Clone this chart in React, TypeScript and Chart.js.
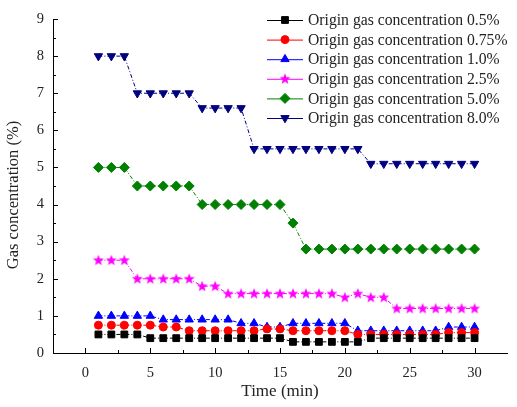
import React, { useEffect, useRef } from "react";
import { Chart, registerables } from "chart.js";
import { drawPoint } from "chart.js/helpers";

Chart.register(...registerables);

const times = Array.from({ length: 30 }, (_, i) => i + 1);

const c05 = [0.5, 0.5, 0.5, 0.5, 0.4, 0.4, 0.4, 0.4, 0.4, 0.4, 0.4, 0.4, 0.4, 0.4, 0.4, 0.3, 0.3, 0.3, 0.3, 0.3, 0.3, 0.4, 0.4, 0.4, 0.4, 0.4, 0.4, 0.4, 0.4, 0.4];
const c075 = [0.75, 0.75, 0.75, 0.75, 0.75, 0.7, 0.7, 0.6, 0.6, 0.6, 0.6, 0.6, 0.6, 0.65, 0.65, 0.6, 0.6, 0.6, 0.6, 0.6, 0.5, 0.5, 0.5, 0.5, 0.5, 0.5, 0.5, 0.55, 0.55, 0.55];
const c10 = [1.0, 1.0, 1.0, 1.0, 1.0, 0.9, 0.9, 0.9, 0.9, 0.9, 0.9, 0.8, 0.8, 0.7, 0.7, 0.8, 0.8, 0.8, 0.8, 0.8, 0.6, 0.6, 0.6, 0.6, 0.6, 0.6, 0.6, 0.7, 0.7, 0.7];
const c25 = [2.5, 2.5, 2.5, 2.0, 2.0, 2.0, 2.0, 2.0, 1.8, 1.8, 1.6, 1.6, 1.6, 1.6, 1.6, 1.6, 1.6, 1.6, 1.6, 1.5, 1.6, 1.5, 1.5, 1.2, 1.2, 1.2, 1.2, 1.2, 1.2, 1.2];
const c50 = [5.0, 5.0, 5.0, 4.5, 4.5, 4.5, 4.5, 4.5, 4.0, 4.0, 4.0, 4.0, 4.0, 4.0, 4.0, 3.5, 2.8, 2.8, 2.8, 2.8, 2.8, 2.8, 2.8, 2.8, 2.8, 2.8, 2.8, 2.8, 2.8, 2.8];
const c80 = [8.0, 8.0, 8.0, 7.0, 7.0, 7.0, 7.0, 7.0, 6.6, 6.6, 6.6, 6.6, 5.5, 5.5, 5.5, 5.5, 5.5, 5.5, 5.5, 5.5, 5.5, 5.1, 5.1, 5.1, 5.1, 5.1, 5.1, 5.1, 5.1, 5.1];

const seriesLabels = [
  "Origin gas concentration 0.5%",
  "Origin gas concentration 0.75%",
  "Origin gas concentration 1.0%",
  "Origin gas concentration 2.5%",
  "Origin gas concentration 5.0%",
  "Origin gas concentration 8.0%",
];
const seriesValues = [c05, c075, c10, c25, c50, c80];
const seriesColors = ["#000000", "#FF0000", "#0000FF", "#FF00FF", "#008000", "#000080"];

const xTickLabels = [0, 5, 10, 15, 20, 25, 30];
const yTickLabels = [0, 1, 2, 3, 4, 5, 6, 7, 8, 9];
const xTitle = "Time (min)";
const yTitle = "Gas concentration (%)";

const FONT = "'Liberation Serif', 'Times New Roman', serif";

function makeStar(color: string): HTMLCanvasElement {
  const c = document.createElement("canvas");
  c.width = 12;
  c.height = 12;
  const ctx = c.getContext("2d")!;
  ctx.fillStyle = color;
  ctx.beginPath();
  const cx = 6, cy = 6.3, ro = 5.8, ri = 2.4;
  for (let i = 0; i < 10; i++) {
    const r = i % 2 === 0 ? ro : ri;
    const a = -Math.PI / 2 + (i * Math.PI) / 5;
    const px = cx + r * Math.cos(a);
    const py = cy + r * Math.sin(a);
    if (i === 0) ctx.moveTo(px, py);
    else ctx.lineTo(px, py);
  }
  ctx.closePath();
  ctx.fill();
  return c;
}

export default function App() {
  const ref = useRef<HTMLCanvasElement | null>(null);

  useEffect(() => {
    document.body.style.margin = "0";
    const star = makeStar("#FF00FF");
    const styles: any[] = [
      { pointStyle: "rect", radius: 4.8, rotation: 0 },
      { pointStyle: "circle", radius: 4, rotation: 0 },
      { pointStyle: "triangle", radius: 4.8, rotation: 0 },
      { pointStyle: star, radius: 6, rotation: 0 },
      { pointStyle: "rectRot", radius: 5, rotation: 0 },
      { pointStyle: "triangle", radius: 4.8, rotation: 180 },
    ];

    const datasets = seriesValues.map((vals, i) => ({
      label: seriesLabels[i],
      data: vals.map((v, j) => ({ x: times[j], y: v })),
      borderColor: seriesColors[i],
      backgroundColor: seriesColors[i],
      borderWidth: 1,
      borderDash: [4, 2, 1, 2],
      pointStyle: styles[i].pointStyle,
      pointRadius: styles[i].radius,
      pointRotation: styles[i].rotation,
      pointBorderWidth: 1,
      pointBorderColor: seriesColors[i],
      pointBackgroundColor: seriesColors[i],
      tension: 0,
    }));

    const axisPlugin = {
      id: "axisTicks",
      afterDraw(chart: any) {
        const ctx = chart.ctx;
        const xs = chart.scales.x;
        const ys = chart.scales.y;
        const { left, bottom, top } = chart.chartArea;
        ctx.save();
        ctx.strokeStyle = "#000";
        ctx.lineWidth = 1;
        ctx.beginPath();
        for (let v = -2.5; v <= 32.5 + 1e-6; v += 2.5) {
          const major = Math.abs(v / 5 - Math.round(v / 5)) < 1e-6;
          if (v <= -2.5 + 1e-6 || v >= 32.5 - 1e-6) continue;
          const px = Math.round(xs.getPixelForValue(v)) + 0.5;
          const len = major ? 5 : 3;
          ctx.moveTo(px, bottom);
          ctx.lineTo(px, bottom - len);
        }
        for (let v = 0.5; v <= 9 + 1e-6; v += 0.5) {
          const major = Math.abs(v - Math.round(v)) < 1e-6;
          const py = Math.round(ys.getPixelForValue(v)) + 0.5;
          const len = major ? 5 : 3;
          ctx.moveTo(left, py);
          ctx.lineTo(left + len, py);
        }
        ctx.stroke();
        ctx.restore();

        ctx.save();
        ctx.fillStyle = "#222";
        ctx.font = `16.5px ${FONT}`;
        ctx.textAlign = "center";
        ctx.textBaseline = "middle";
        ctx.translate(14, (top + bottom) / 2 + 9);
        ctx.rotate(-Math.PI / 2);
        ctx.fillText(yTitle, 0, 0);
        ctx.restore();

        ctx.save();
        const lx0 = 267, lx1 = 303, mx = 285, tx = 308;
        const y0 = 20, dy = 19.6;
        chart.data.datasets.forEach((ds: any, i: number) => {
          const y = y0 + i * dy;
          ctx.strokeStyle = ds.borderColor;
          ctx.lineWidth = 1;
          ctx.setLineDash([]);
          ctx.beginPath();
          ctx.moveTo(lx0, y + 0.5);
          ctx.lineTo(lx1, y + 0.5);
          ctx.stroke();
          ctx.fillStyle = ds.backgroundColor;
          ctx.strokeStyle = ds.borderColor;
          drawPoint(ctx, {
            pointStyle: ds.pointStyle,
            rotation: ds.pointRotation,
            borderWidth: 1,
            radius: ds.pointRadius,
          } as any, mx, y);
          ctx.fillStyle = "#222";
          ctx.font = `15.7px ${FONT}`;
          ctx.textBaseline = "middle";
          ctx.textAlign = "left";
          ctx.fillText(ds.label, tx, y + 1);
        });
        ctx.restore();
      },
    };

    const chart = new Chart(ref.current!, {
      type: "line",
      data: { datasets },
      plugins: [axisPlugin],
      options: {
        animation: false,
        responsive: false,
        layout: { padding: { top: 19, right: 10, left: 0, bottom: 0 } },
        plugins: { legend: { display: false }, tooltip: { enabled: false } },
        scales: {
          x: {
            type: "linear",
            min: -2.5,
            max: 32.5,
            afterFit: (s: any) => { s.height = 54; },
            afterBuildTicks: (s: any) => { s.ticks = xTickLabels.map((v) => ({ value: v })); },
            grid: { display: false, drawTicks: false },
            border: { display: true, color: "#000", width: 1 },
            ticks: {
              includeBounds: false,
              stepSize: 5,
              padding: 11,
              color: "#222",
              font: { family: FONT, size: 14.5 },
              maxRotation: 0,
            },
            title: {
              display: true,
              text: xTitle,
              color: "#222",
              font: { family: FONT, size: 17 },
              padding: { top: 0, bottom: 5 },
            },
          },
          y: {
            type: "linear",
            min: 0,
            max: 9,
            afterFit: (s: any) => { s.width = 53; },
            afterBuildTicks: (s: any) => { s.ticks = yTickLabels.map((v) => ({ value: v })); },
            grid: { display: false, drawTicks: false },
            border: { display: true, color: "#000", width: 1 },
            ticks: {
              stepSize: 1,
              padding: 9,
              color: "#222",
              font: { family: FONT, size: 14.5 },
            },
            title: { display: false },
          },
        },
      } as any,
    });
    return () => chart.destroy();
  }, []);

  return (
    <div style={{ width: 517, height: 407 }}>
      <canvas ref={ref} width={517} height={407} />
    </div>
  );
}
